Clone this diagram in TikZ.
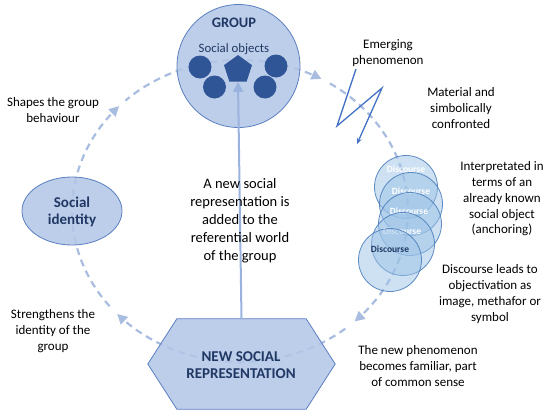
\documentclass[tikz,border=0pt]{standalone}
\usepackage{fontspec}
\setmainfont{Carlito}
\usetikzlibrary{shapes.geometric,arrows.meta,calc}
\definecolor{lightfill}{HTML}{B4C7E7}
\definecolor{edgeblue}{HTML}{5A7FBF}
\definecolor{darkdot}{HTML}{2F5597}
\definecolor{navy}{HTML}{203864}
\definecolor{dashc}{HTML}{A9BDE0}
\definecolor{arrowc}{HTML}{9AB3DE}
\definecolor{zig}{HTML}{4472C4}
\definecolor{discfill}{HTML}{9DC3E6}
\definecolor{discedge}{HTML}{4F81BD}
\tikzset{
  lbl/.style={align=center, inner sep=0pt, font=\fontsize{13}{15.8}\selectfont},
  title/.style={align=center, inner sep=0pt, text=navy, font=\fontsize{15}{17}\selectfont\bfseries},
  dashline/.style={draw=dashc, line width=2.2pt, dash pattern=on 7pt off 5pt},
  looptip/.style={{Triangle[length=10pt,width=10pt]}-},
  dot/.style={circle, fill=darkdot, minimum size=23pt, inner sep=0pt},
  disc/.style={circle, minimum size=63pt, inner sep=0pt, fill=discfill, fill opacity=0.5, draw=discedge, draw opacity=0.9, line width=0.8pt},
  disctext/.style={inner sep=0pt, text=white, font=\fontsize{9.5}{11}\selectfont\bfseries},
}
\begin{document}
\begin{tikzpicture}[x=1pt,y=-1pt]
\useasboundingbox (0,0) rectangle (550,418);
% dashed cycle
\draw[dashline, looptip] plot[domain=136:220, samples=50] ({240+168*cos(\x)},{211-151*sin(\x)});
\draw[dashline, looptip] plot[domain=61:133, samples=50] ({240+168*cos(\x)},{211-151*sin(\x)});
\draw[dashline, looptip] plot[domain=-47:58, samples=60] ({240+168*cos(\x)},{211-151*sin(\x)});
\draw[dashline, looptip] plot[domain=-137:-50, samples=50] ({240+168*cos(\x)},{211-151*sin(\x)});

% group circle
\node[circle, minimum size=123pt, inner sep=0pt, fill=lightfill, fill opacity=0.88, draw=edgeblue, line width=0.8pt] (group) at (238.5,66) {};
\node[title, font=\fontsize{14.5}{17}\selectfont\bfseries] (grouptxt) at (234,23) {GROUP};
\node[inner sep=0pt, text=navy, font=\fontsize{12.8}{15}\selectfont] (socobj) at (234,49) {Social objects};
\node[dot] (d1) at (200,67) {};
\node[dot] (d2) at (214.5,87) {};
\node[dot] (d3) at (276,66) {};
\node[dot] (d4) at (265,87) {};
\node[regular polygon, regular polygon sides=5, minimum size=29.4pt, inner sep=0pt, fill=darkdot] (pent) at (238,69.7) {};

% social identity
\node[ellipse, minimum width=100pt, minimum height=68pt, inner sep=0pt, fill=lightfill, fill opacity=0.88, draw=edgeblue, line width=0.8pt] (sid) at (72,211) {};
\node[title] (sidtxt) at (72,212) {Social\\identity};

% hexagon
\node[minimum width=187pt, minimum height=90pt, inner sep=0pt] (nsr) at (241.5,364) {};
\filldraw[fill=lightfill, fill opacity=0.88, draw=edgeblue, line width=0.8pt]
  (nsr.west) -- ($(nsr.north west)+(29,0)$) -- ($(nsr.north east)+(-29,0)$) -- (nsr.east)
  -- ($(nsr.south east)+(-29,0)$) -- ($(nsr.south west)+(29,0)$) -- cycle;
\node[title] (nsrtxt) at (241,365) {NEW SOCIAL\\REPRESENTATION};

% vertical arrow
\draw[arrowc, line width=2pt, -{Triangle[length=10pt,width=10pt]}] (nsr.north) -- (pent.south);

% zigzag
\coordinate (z1) at (356,69);
\coordinate (z2) at (337,126);
\coordinate (z3) at (382,88);
\coordinate (z4) at (357,144);
\draw[zig, line width=1.3pt, -{Stealth[length=6pt,width=5pt]}] (z1) -- (z2) -- (z3) -- (z4);

% discourse circles
\node[disc] (c1) at (406,187) {};
\node[disctext] (t1) at (406,169) {Discourse};
\node[disc] (c2) at (411,204) {};
\node[disctext] (t2) at (411,191) {Discourse};
\node[disc] (c3) at (410,224) {};
\node[disctext] (t3) at (409,211) {Discourse};
\node[disc] (c4) at (403,244) {};
\node[disctext] (t4) at (402,231) {Discourse};
\node[disc] (c5) at (390,260) {};
\node[disctext, text=navy] (t5) at (390,249) {Discourse};

% labels
\node[lbl] (shapes) at (53,110) {Shapes the group\\behaviour};
\node[lbl] (streng) at (53,331) {Strengthens the\\identity of the\\group};
\node[lbl, font=\fontsize{14.5}{18}\selectfont] (centre) at (240,221) {A new social\\representation is\\added to the\\referential world\\of the group};
\node[lbl] (emerg) at (388,53) {Emerging\\phenomenon};
\node[lbl] (mater) at (461,108) {Material and\\simbolically\\confronted};
\node[lbl] (interp) at (502,199) {Interpretated in\\terms of an\\already known\\social object\\(anchoring)};
\node[lbl] (leads) at (490,294) {Discourse leads to\\objectivation as\\image, methafor or\\symbol};
\node[lbl] (famil) at (418,366) {The new phenomenon\\becomes familiar, part\\of common sense};
\end{tikzpicture}
\end{document}
